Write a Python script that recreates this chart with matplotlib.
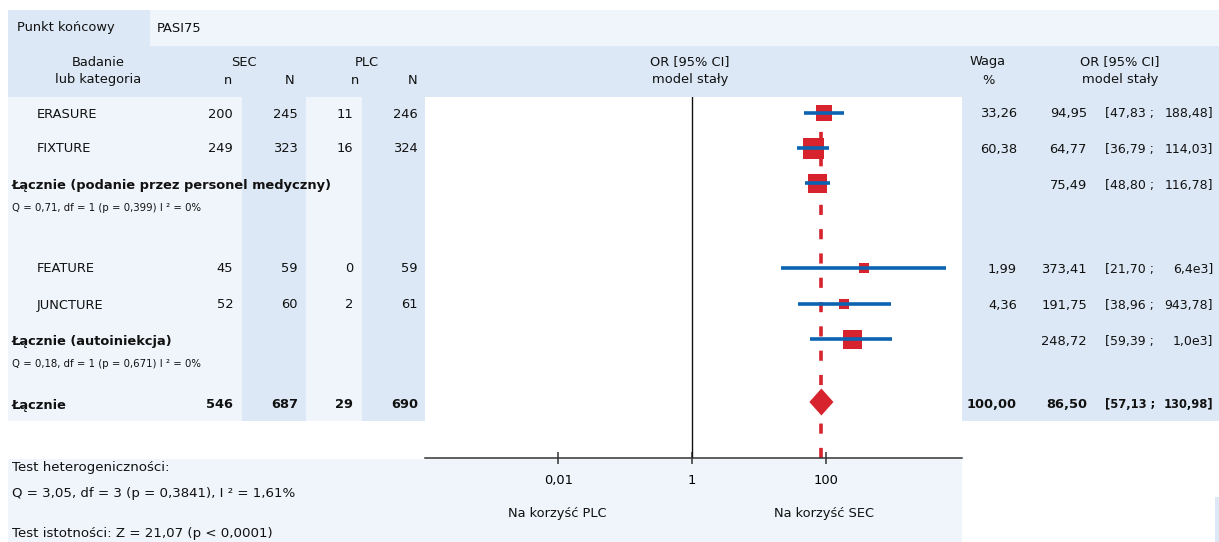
import matplotlib
matplotlib.use("Agg")
import matplotlib.pyplot as plt
from matplotlib.patches import Rectangle, Polygon
import numpy as np

plt.rcParams['font.family'] = ['DejaVu Sans']
plt.rcParams['lines.scale_dashes'] = False

# ---------------- data ----------------
endpoint = "PASI75"
studies = ["ERASURE", "FIXTURE", "FEATURE", "JUNCTURE"]
sec_n = [200, 249, 45, 52]
sec_N = [245, 323, 59, 60]
plc_n = [11, 16, 0, 2]
plc_N = [246, 324, 59, 61]
weights = [33.26, 60.38, 1.99, 4.36]
study_or = [94.95, 64.77, 373.41, 191.75]
study_lo = [47.83, 36.79, 21.70, 38.96]
study_hi = [188.48, 114.03, 6400.0, 943.78]

sub_names = ["Łącznie (podanie przez personel medyczny)", "Łącznie (autoiniekcja)"]
sub_or = [75.49, 248.72]
sub_lo = [48.80, 59.39]
sub_hi = [116.78, 1000.0]
sub_het = ["Q = 0,71, df = 1 (p = 0,399) I ² = 0%", "Q = 0,18, df = 1 (p = 0,671) I ² = 0%"]

total_name = "Łącznie"
total_counts = [546, 687, 29, 690]
total_weight = 100.00
total_or = 86.50
total_lo = 57.13
total_hi = 130.98

tick_vals = [0.01, 1, 100]
tick_labels = ["0,01", "1", "100"]
het_text = ["Test heterogeniczności:", "Q = 3,05, df = 3 (p = 0,3841), I ² = 1,61%",
            "Test istotności: Z = 21,07 (p < 0,0001)"]
favours = ["Na korzyść PLC", "Na korzyść SEC"]

# ---------------- layout (pixels) ----------------
W, H = 1219, 542
study_rows = [114, 149, 269, 305]
sub_rows = [185, 341]
sub_q_rows = [208, 364]
total_row = 405
mark_shift = -1.5

DARK = "#dce8f5"
LIGHT = "#f0f5fb"
RED = "#d6232e"
BLUE = "#0b63b2"
FS = 9.4

def fmt(v):
    if v >= 1000:
        m, e = f"{v:.1e}".split("e")
        return f"{m.replace('.', ',')}e{int(e)}"
    return f"{v:.2f}".replace(".", ",")

fig = plt.figure(figsize=(W / 100, H / 100), dpi=100)
bg = fig.add_axes([0, 0, 1, 1])
bg.set_xlim(0, W)
bg.set_ylim(H, 0)
bg.axis("off")

def rect(x0, y0, x1, y1, c):
    bg.add_patch(Rectangle((x0, y0), x1 - x0, y1 - y0, facecolor=c, edgecolor="none", zorder=0))

# backgrounds
rect(8, 10, 150, 46, DARK)
rect(150, 10, W, 46, LIGHT)
rect(8, 46, W, 97, DARK)
rect(8, 97, 425, 421, LIGHT)
rect(242, 97, 306, 421, DARK)
rect(362, 97, 425, 421, DARK)
rect(962, 97, W, 421, DARK)
rect(8, 459, 962, H, LIGHT)
rect(1215, 497, W, H, DARK)

def t(x, y, s, ha="left", bold=False, size=FS):
    bg.text(x, y, s, ha=ha, va="center", fontsize=size,
            fontweight="bold" if bold else "normal", color="#111111", zorder=5)

# header
t(17, 28, "Punkt końcowy")
t(157, 28, endpoint)
t(98, 62, "Badanie", ha="center")
t(98, 80, "lub kategoria", ha="center")
t(244, 62, "SEC", ha="center")
t(228, 80, "n", ha="center")
t(290, 80, "N", ha="center")
t(367, 62, "PLC", ha="center")
t(355, 80, "n", ha="center")
t(413, 80, "N", ha="center")
t(690, 62, "OR [95% CI]", ha="center")
t(690, 80, "model stały", ha="center")
t(988, 62, "Waga", ha="center")
t(988, 80, "%", ha="center")
t(1120, 62, "OR [95% CI]", ha="center")
t(1120, 80, "model stały", ha="center")

col_right = [233, 298, 353, 418]

def ci_text(y, lo, hi, bold=False):
    size = 8.3 if bold else 9.0
    t(1105, y, f"[{fmt(lo)} ;", bold=bold, size=size)
    t(1213, y, f"{fmt(hi)}]", ha="right", bold=bold, size=size)

for i, name in enumerate(studies):
    y = study_rows[i]
    t(37, y, name)
    for xr, v in zip(col_right, [sec_n[i], sec_N[i], plc_n[i], plc_N[i]]):
        t(xr, y, str(v), ha="right")
    t(1017, y, fmt(weights[i]), ha="right")
    t(1087, y, fmt(study_or[i]), ha="right")
    ci_text(y, study_lo[i], study_hi[i])

for j, name in enumerate(sub_names):
    y = sub_rows[j]
    t(12, y + 1, name, bold=True)
    t(12, sub_q_rows[j], sub_het[j], size=7.3)
    t(1087, y + 1, fmt(sub_or[j]), ha="right")
    ci_text(y + 1, sub_lo[j], sub_hi[j])

t(12, total_row, total_name, bold=True)
for xr, v in zip(col_right, total_counts):
    t(xr, total_row, str(v), ha="right", bold=True)
t(1017, total_row, fmt(total_weight), ha="right", bold=True)
t(1087, total_row, fmt(total_or), ha="right", bold=True)
ci_text(total_row, total_lo, total_hi, bold=True)

t(12, 468, het_text[0], size=9.6)
t(12, 494, het_text[1], size=9.6)
t(12, 534, het_text[2], size=9.6)

# ---------------- forest axes ----------------
x0, x1, y0, y1 = 425, 962, 97, 458
ax = fig.add_axes([x0 / W, 1 - y1 / H, (x1 - x0) / W, (y1 - y0) / H])
ax.set_facecolor("white")
ax.set_xscale("log")
px_per_dec = 66.8
x_one = 692
ax.set_xlim(10 ** ((x0 - x_one) / px_per_dec), 10 ** ((x1 - x_one) / px_per_dec))
ax.set_ylim(y1, y0)
for s in ["top", "left", "right"]:
    ax.spines[s].set_visible(False)
ax.spines["bottom"].set_color("#333333")
ax.spines["bottom"].set_linewidth(1.1)
ax.set_yticks([])
ax.set_xticks(tick_vals)
ax.set_xticklabels(tick_labels, fontsize=FS)
ax.xaxis.set_minor_locator(matplotlib.ticker.NullLocator())
ax.tick_params(axis="x", direction="inout", length=9, width=1.1, color="#333333", pad=7)

ax.axvline(1, color="#111111", lw=1.0, zorder=2)
ax.axvline(total_or, color=RED, lw=2.6, dashes=(7.3, 10.2), zorder=1)

def sq(x, y, px):
    ax.plot([x], [y], marker="s", markersize=px * 0.72, color=RED, mew=0, zorder=3)

for i in range(len(studies)):
    y = study_rows[i] + mark_shift
    px = 9 + 12 * weights[i] / max(weights)
    sq(study_or[i], y, px)
    ax.plot([study_lo[i], study_hi[i]], [y, y], color=BLUE, lw=2.6, solid_capstyle="butt", zorder=4)

for j in range(len(sub_names)):
    y = sub_rows[j] - 2
    sq(sub_or[j], y, 19)
    ax.plot([sub_lo[j], sub_hi[j]], [y, y], color=BLUE, lw=2.6, solid_capstyle="butt", zorder=4)

yd = total_row - 3
hd = 13.5
ax.add_patch(Polygon([[total_lo, yd], [total_or, yd - hd], [total_hi, yd], [total_or, yd + hd]],
                     closed=True, facecolor=RED, edgecolor="none", zorder=3))

t(557, 513, favours[0], ha="center")
t(824, 513, favours[1], ha="center")

fig.savefig("out.png", dpi=100)
